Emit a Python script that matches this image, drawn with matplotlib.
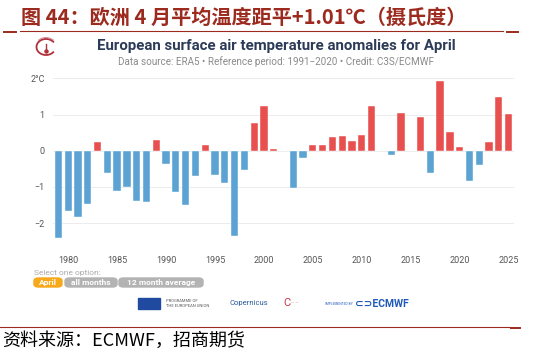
import matplotlib
matplotlib.use("Agg")
import matplotlib.pyplot as plt
from matplotlib.patches import FancyBboxPatch, Rectangle, Arc
import numpy as np

# April surface air temperature anomalies for Europe (deg C, vs 1991-2020)
years = list(range(1979, 2026))
anomalies = [
    -2.40, -1.67, -1.82, -1.47, 0.23, -0.61, -1.10, -1.01, -1.39, -1.43,
    0.29, -0.36, -1.14, -1.50, -0.69, 0.15, -0.68, -0.88, -2.36, -0.52,
    0.76, 1.23, 0.05, -0.01, -1.03, -0.20, 0.16, 0.17, 0.39, 0.42,
    0.28, 0.43, 1.24, -0.01, -0.13, 1.04, 0.00, 0.92, -0.62, 1.93,
    0.52, 0.11, -0.83, -0.40, 0.23, 1.49, 1.01,
]
y_ticks = [-2, -1, 0, 1, 2]
y_tick_labels = ["\u22122", "\u22121", "0", "1", "2\u00b0C"]
x_ticks = [1980, 1985, 1990, 1995, 2000, 2005, 2010, 2015, 2020, 2025]
buttons = ["April", "all months", "12 month average"]

plt.rcParams['font.family'] = ['Roboto', 'DejaVu Sans']
W, H = 549, 354
fig = plt.figure(figsize=(W / 100, H / 100), dpi=100)
fig.patch.set_facecolor("white")

def px(x, y):
    return x / W, 1 - y / H

dark_red = "#9c2a1e"
cjk = ['Noto Sans CJK SC', 'DejaVu Sans']

# report header / footer
fig.text(*px(21, 17), "图 44：欧洲 4 月平均温度距平+1.01℃（摄氏度）", family=cjk,
         fontsize=14.5, fontweight="bold", color=dark_red, va="center", ha="left")
fig.add_artist(plt.Line2D([20 / W, 503 / W], [1 - 31 / H] * 2, color=dark_red, lw=0.8))
fig.add_artist(plt.Line2D([4 / W, 16 / W], [1 - 32 / H] * 2, color=dark_red, lw=1.4))
fig.add_artist(plt.Line2D([507 / W, 518 / W], [1 - 32 / H] * 2, color=dark_red, lw=1.4))
fig.add_artist(plt.Line2D([0, 510 / W], [1 - 327 / H] * 2, color=dark_red, lw=0.8))
fig.add_artist(plt.Line2D([511 / W, 520 / W], [1 - 328 / H] * 2, color=dark_red, lw=1.4))
fig.text(*px(2, 341), "资料来源：ECMWF，招商期货", family=cjk, fontsize=13,
         color="black", va="center", ha="left")

# chart title
fig.text(*px(276, 46), "European surface air temperature anomalies for April",
         fontsize=10.8, fontweight="bold", color="#2c3b57", ha="center", va="center")
fig.text(*px(276, 62), "Data source: ERA5 \u2022 Reference period: 1991\u22122020 \u2022 Credit: C3S/ECMWF",
         fontsize=7.1, color="#8a8a8a", ha="center", va="center")

# small logo left of title
lax = fig.add_axes([34 / W, 1 - 57 / H, 24 / W, 20 / H])
lax.set_xlim(0, 1.2); lax.set_ylim(0, 1); lax.axis("off")
lax.add_patch(Arc((0.6, 0.5), 0.95, 0.8, theta1=30, theta2=330, color="#b0303a", lw=1.3))
lax.add_patch(Arc((0.6, 0.5), 1.1, 0.95, theta1=40, theta2=140, color="#d08090", lw=0.6))
lax.plot([0.6, 0.6], [0.3, 0.65], color="#b0303a", lw=1.0)
lax.plot(0.6, 0.3, "o", color="#b0303a", ms=2.2)

# main bar chart
ax = fig.add_axes([53 / W, 1 - 241.2 / H, (514 - 53) / W, (241.2 - 76.5) / H])
colors = ["#e8504f" if v > 0 else ("#d7e6f2" if v > -0.05 else "#5ca3d3") for v in anomalies]
ax.bar(years, anomalies, width=0.74, color=colors, edgecolor="white", linewidth=0.3, zorder=3)
ax.set_xlim(1978.45, 2025.55)
ax.set_ylim(-2.5, 2.05)
ax.set_yticks(y_ticks)
ax.set_yticklabels(y_tick_labels)
ax.set_xticks(x_ticks)
ax.grid(axis="y", color="#ececec", lw=0.7, zorder=0)
for s in ax.spines.values():
    s.set_visible(False)
ax.tick_params(axis="both", length=0, labelsize=6.5, labelcolor="#555555")
ax.tick_params(axis="y", pad=6)
ax.tick_params(axis="x", pad=11)

# option buttons
fig.text(*px(34, 273), "Select one option:", fontsize=6, color="#aaaaaa", va="center", ha="left")
bx = [(34, 62, "#f7a81b"), (65, 117, "#b3b3b3"), (119, 203, "#b3b3b3")]
for (x0, x1, c), label in zip(bx, buttons):
    fig.add_artist(FancyBboxPatch(px(x0, 287), (x1 - x0) / W, 9 / H,
                                  boxstyle="round,pad=0,rounding_size=0.008",
                                  transform=fig.transFigure, color=c))
    fig.text(*px((x0 + x1) / 2, 282.5), label, fontsize=6, color="white",
             fontweight="bold", ha="center", va="center")

# footer logos
fig.add_artist(Rectangle(px(138, 309), 22 / W, 11 / H, transform=fig.transFigure, color="#1f4aa0"))
fig.text(*px(166, 303.5), "PROGRAMME OF\nTHE EUROPEAN UNION", fontsize=3, color="#555555",
         va="center", ha="left", linespacing=1.1)
fig.text(*px(229, 303.5), "Copernicus", fontsize=5.5, color="#2b5a9c", va="center", ha="left")
fig.text(*px(283, 303.5), "C", fontsize=8, color="#c23b4a", va="center", ha="left")
fig.text(*px(291, 303.5), "\u2014 \u2014", fontsize=3, color="#e07080", va="center", ha="left")
fig.text(*px(325, 304), "IMPLEMENTED BY", fontsize=2.4, color="#2a5fbf", va="center", ha="left")
fig.text(*px(355, 304), "\u2282\u2283ECMWF", fontsize=7.5, fontweight="bold", color="#1f5ab8",
         va="center", ha="left")

fig.savefig("out.png", dpi=100)
